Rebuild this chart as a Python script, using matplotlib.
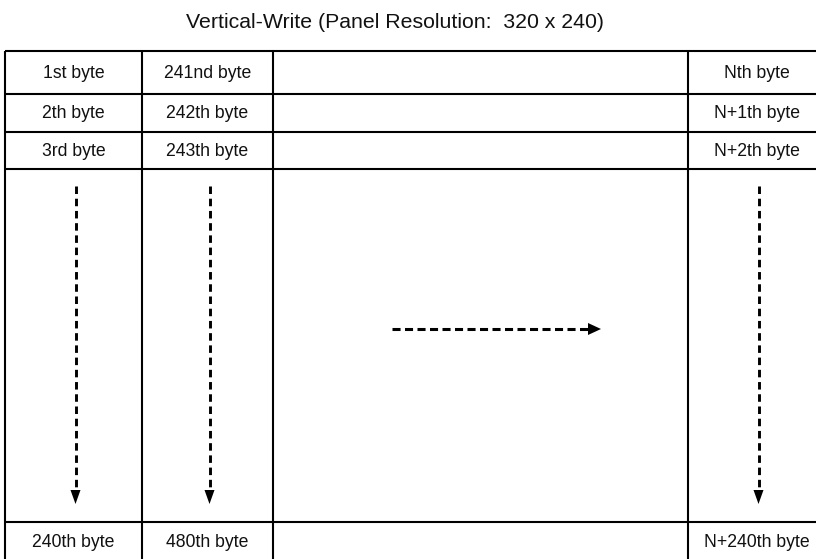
import matplotlib.pyplot as plt
from matplotlib.patches import Polygon

plt.rcParams['font.family'] = ['Liberation Sans', 'DejaVu Sans']
plt.rcParams['lines.scale_dashes'] = False

title = "Vertical-Write (Panel Resolution:  320 x 240)"

# cell texts, column by column (blank middle column)
col_1 = ["1st byte", "2th byte", "3rd byte", "240th byte"]
col_2 = ["241nd byte", "242th byte", "243th byte", "480th byte"]
col_3 = ["", "", "", ""]
col_4 = ["Nth byte", "N+1th byte", "N+2th byte", "N+240th byte"]
columns = [col_1, col_2, col_3, col_4]

# layout in pixels
W, H = 816, 559
x_edges = [5, 142, 273, 688, 825]
y_edges = [51, 94, 131.5, 168.5, 521.5, 562]
text_rows = [0, 1, 2, 4]          # row index of each text, row 3 holds arrows
arrow_cols = [0, 1, 3]

fig = plt.figure(figsize=(W / 100, H / 100), dpi=100)
ax = fig.add_axes([0, 0, 1, 1])
ax.set_xlim(0, W)
ax.set_ylim(H, 0)
ax.axis('off')

ax.text(395, 22, title, ha='center', va='center', fontsize=15.3, color='#111111')

# table grid
lw = 1.5
for x in x_edges:
    ax.plot([x, x], [y_edges[0], y_edges[-1]], color='black', lw=lw, solid_capstyle='butt')
for y in y_edges:
    ax.plot([x_edges[0], x_edges[-1]], [y, y], color='black', lw=lw, solid_capstyle='butt')

# texts
for c, labels in enumerate(columns):
    xc = (x_edges[c] + x_edges[c + 1]) / 2
    for r, lab in zip(text_rows, labels):
        yc = (y_edges[r] + y_edges[r + 1]) / 2
        ax.text(xc, yc + 1, lab, ha='center', va='center', fontsize=12.7, color='#111111')

# dashed vertical arrows
y0, y1 = 186, 504
for c in arrow_cols:
    xc = (x_edges[c] + x_edges[c + 1]) / 2 + 2
    ax.plot([xc, xc], [y0, y1 - 13], color='black', lw=2.1,
            dashes=(5.4, 3.4), dash_capstyle='butt')
    ax.add_patch(Polygon([[xc - 5, y1 - 14], [xc + 5, y1 - 14], [xc, y1]],
                         closed=True, color='black', lw=0))

# dashed horizontal arrow
hx0, hx1, hy = 392, 601, 329
ax.plot([hx0, hx1 - 12], [hy, hy], color='black', lw=2.2,
        dashes=(5.8, 3.2), dash_capstyle='butt')
ax.add_patch(Polygon([[hx1 - 13, hy - 6], [hx1 - 13, hy + 6], [hx1, hy]],
                     closed=True, color='black', lw=0))

fig.savefig('out.png', dpi=100)
